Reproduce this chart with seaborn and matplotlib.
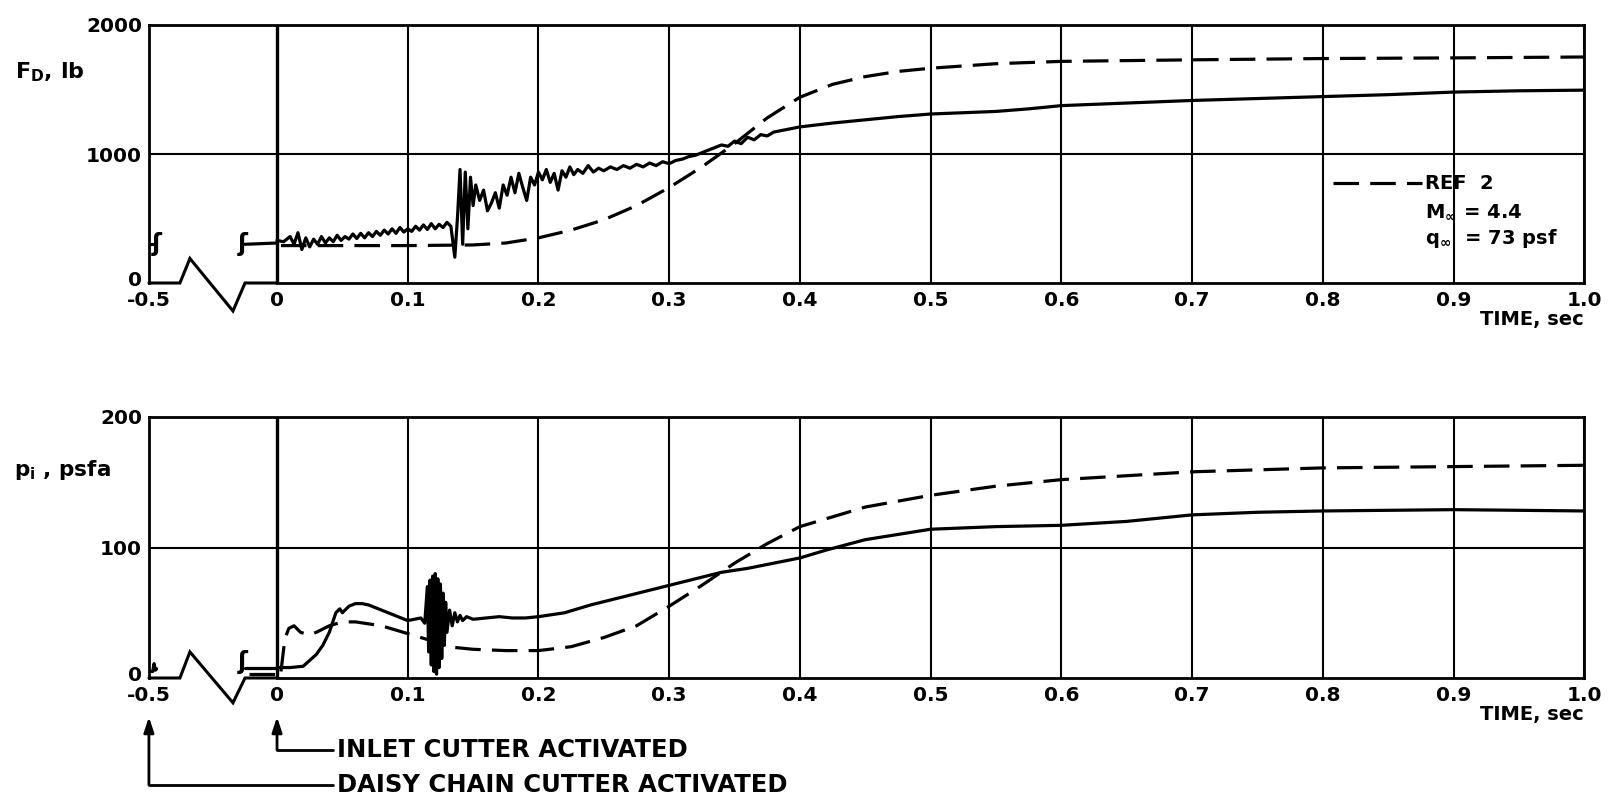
import numpy as np
import pandas as pd
import matplotlib
matplotlib.use("Agg")
import matplotlib.pyplot as plt
import matplotlib.transforms as mtrans
from matplotlib.lines import Line2D
import seaborn as sns

# x axis: -0.5..0 is squeezed into about one tick interval
SQUEEZE = 0.196
time_ticks = [-0.5, 0, 0.1, 0.2, 0.3, 0.4, 0.5, 0.6, 0.7, 0.8, 0.9, 1.0]
time_labels = ['-0.5', '0', '0.1', '0.2', '0.3', '0.4', '0.5', '0.6', '0.7', '0.8', '0.9', '1.0']

# drag force, measured (lb)
fd_time = [0.000, 0.005, 0.010, 0.013, 0.016, 0.019, 0.022, 0.025, 0.028, 0.031, 0.034, 0.037,
           0.040, 0.043, 0.046, 0.049, 0.052, 0.055, 0.058, 0.061, 0.064, 0.067, 0.070, 0.073,
           0.076, 0.079, 0.082, 0.085, 0.088, 0.091, 0.094, 0.097, 0.100, 0.103, 0.106, 0.109,
           0.112, 0.115, 0.118, 0.121, 0.124, 0.127, 0.130, 0.133, 0.136, 0.138, 0.140, 0.142,
           0.144, 0.146, 0.148, 0.150, 0.152, 0.155, 0.158, 0.161, 0.164, 0.167, 0.170, 0.173,
           0.176, 0.179, 0.182, 0.185, 0.188, 0.191, 0.194, 0.197, 0.200, 0.203, 0.206, 0.209,
           0.212, 0.215, 0.218, 0.221, 0.224, 0.227, 0.230, 0.234, 0.238, 0.242, 0.246, 0.250,
           0.255, 0.260, 0.265, 0.270, 0.275, 0.280, 0.285, 0.290, 0.295, 0.300, 0.305, 0.310,
           0.315, 0.320, 0.325, 0.330, 0.335, 0.340, 0.345, 0.350, 0.355, 0.360, 0.365, 0.370,
           0.375, 0.380, 0.390, 0.400, 0.425, 0.450, 0.475, 0.500, 0.525, 0.550, 0.575, 0.600,
           0.650, 0.700, 0.750, 0.800, 0.850, 0.900, 0.950, 1.000]
fd_meas = [330, 320, 360, 300, 390, 260, 350, 280, 340, 300, 360, 310,
           350, 320, 370, 330, 360, 340, 380, 345, 385, 350, 390, 360,
           400, 370, 410, 380, 420, 385, 430, 395, 420, 400, 440, 410,
           450, 415, 460, 420, 455, 430, 470, 440, 200, 500, 880, 300,
           860, 420, 820, 600, 760, 640, 720, 560, 620, 700, 580, 760,
           680, 820, 700, 850, 740, 640, 820, 760, 860, 800, 880, 780,
           850, 720, 870, 820, 900, 840, 880, 850, 910, 860, 890, 870,
           900, 880, 910, 890, 920, 900, 930, 910, 940, 925, 950, 960,
           980, 990, 1010, 1030, 1050, 1070, 1060, 1100, 1080, 1130, 1110, 1150,
           1140, 1170, 1190, 1210, 1240, 1265, 1290, 1310, 1320, 1330, 1350, 1375,
           1395, 1415, 1430, 1445, 1460, 1480, 1490, 1495]

# drag force, REF 2
fd_ref_time = [0.003, 0.05, 0.10, 0.15, 0.175, 0.20, 0.225, 0.25, 0.275, 0.30, 0.325, 0.35,
               0.375, 0.40, 0.425, 0.45, 0.475, 0.50, 0.55, 0.60, 0.70, 0.80, 0.90, 1.00]
fd_ref = [290, 290, 290, 295, 310, 350, 410, 490, 600, 740, 900, 1080,
          1280, 1440, 1540, 1600, 1640, 1665, 1700, 1718, 1730, 1740, 1745, 1752]

# inlet pressure, measured (psfa)
pi_time = [0.000, 0.010, 0.020, 0.030, 0.035, 0.040, 0.045, 0.048, 0.050, 0.055, 0.060, 0.065,
           0.070, 0.080, 0.090, 0.100, 0.105, 0.110, 0.113, 0.115, 0.116, 0.117, 0.118, 0.119,
           0.120, 0.121, 0.122, 0.123, 0.124, 0.125, 0.126, 0.127, 0.128, 0.129, 0.130, 0.132,
           0.134, 0.136, 0.138, 0.140, 0.142, 0.145, 0.150, 0.160, 0.170, 0.180, 0.190, 0.200,
           0.220, 0.240, 0.260, 0.280, 0.300, 0.320, 0.340, 0.360, 0.380, 0.400, 0.420, 0.450,
           0.500, 0.550, 0.600, 0.650, 0.700, 0.750, 0.800, 0.900, 1.000]
pi_meas = [8, 8, 9, 18, 25, 35, 50, 53, 50, 55, 57, 57,
           56, 52, 48, 44, 45, 46, 42, 70, 20, 75, 10, 78,
           5, 80, 3, 76, 8, 72, 15, 65, 25, 58, 35, 52,
           40, 50, 43, 48, 44, 47, 45, 46, 47, 46, 46, 47,
           50, 56, 61, 66, 71, 76, 81, 84, 88, 92, 98, 106,
           114, 116, 117, 120, 125, 127, 128, 129, 128]

# inlet pressure, REF 2
pi_ref_time = [0.003, 0.006, 0.009, 0.013, 0.018, 0.025, 0.030, 0.040, 0.050, 0.060, 0.080, 0.100,
               0.120, 0.130, 0.150, 0.175, 0.200, 0.225, 0.250, 0.275, 0.300, 0.325, 0.350, 0.375,
               0.400, 0.450, 0.500, 0.550, 0.600, 0.700, 0.800, 0.900, 1.000]
pi_ref = [5, 30, 38, 40, 35, 33, 35, 40, 43, 43, 40, 34,
          28, 24, 22, 21, 21, 24, 31, 40, 55, 71, 88, 103,
          116, 131, 140, 147, 152, 158, 161, 162, 163]

# traces before time zero
fd_pre_time = [[-0.5, -0.485], [-0.125, 0.0]]
fd_pre = [[300, 300], [300, 310]]
pi_pre_time = [[-0.5, -0.485, -0.48, -0.475, -0.47], [-0.125, 0.0]]
pi_pre = [[5, 5, 11, 6, 7], [8, 8]]
pi_pre_ref_time = [-0.11, 0.0]
pi_pre_ref = [3, 3]

# axis break (zig-zag) drawn on the time axis
brk_time = [-0.5, -0.379, -0.340, -0.172, -0.125, 0.0]
fd_brk = [0, 0, 190, -217, 0, 0]
pi_brk = [0, 0, 20, -19, 0, 0]


def fwd(t):
    t = np.asarray(t, dtype=float)
    return np.where(t < 0, t * SQUEEZE, t)


def inv(x):
    x = np.asarray(x, dtype=float)
    return np.where(x < 0, x / SQUEEZE, x)


sns.set_style("white")
plt.rcParams['font.family'] = ['DejaVu Sans']
plt.rcParams['font.weight'] = 'bold'
plt.rcParams['mathtext.default'] = 'bf'
plt.rcParams['text.color'] = 'black'
plt.rcParams['axes.labelcolor'] = 'black'
plt.rcParams['xtick.color'] = 'black'
plt.rcParams['ytick.color'] = 'black'

LW = 2.3
DASH = (0, (8, 3.5))

fig = plt.figure(figsize=(16.1, 8), dpi=100)
ax1 = fig.add_axes([0.0925, 0.64625, 0.8915, 0.3225])
ax2 = fig.add_axes([0.0925, 0.1525, 0.8915, 0.32625])


def draw_panel(ax, t_meas, y_meas, t_ref, y_ref, pre_t, pre_y, brk_y, ymax, ystep):
    sns.lineplot(x=t_meas, y=y_meas, ax=ax, color='black', linewidth=LW,
                 sort=False, estimator=None)
    sns.lineplot(x=t_ref, y=y_ref, ax=ax, color='black', linewidth=LW,
                 sort=False, estimator=None, linestyle=DASH)
    for tt, yy in zip(pre_t, pre_y):
        sns.lineplot(x=tt, y=yy, ax=ax, color='black', linewidth=LW,
                     sort=False, estimator=None)
    ax.plot(brk_time, brk_y, color='black', lw=2.2, clip_on=False,
            solid_joinstyle='miter')
    ax.set_xscale('function', functions=(fwd, inv))
    ax.set_xlim(-0.5, 1.0)
    ax.set_ylim(0, ymax)
    ax.set_xticks(time_ticks)
    ax.set_xticklabels(time_labels)
    ax.set_yticks([0, ystep, ymax])
    for t in time_ticks[1:]:
        ax.axvline(t, color='black', lw=2.4 if t == 0 else 1.5, zorder=1)
    ax.axhline(ystep, color='black', lw=1.5, zorder=1)
    for s in ax.spines.values():
        s.set_color('black')
        s.set_linewidth(2.0)
    ax.spines['bottom'].set_bounds(0, 1.0)
    ax.tick_params(length=0, labelsize=14.5)
    ax.tick_params(axis='y', pad=5)
    ax.tick_params(axis='x', pad=6)
    for lab in ax.get_xticklabels() + ax.get_yticklabels():
        lab.set_fontweight('bold')
    # lift the y "0" a little so it sits above the "-0.5"
    zero_lab = ax.get_yticklabels()[0]
    zero_lab.set_transform(zero_lab.get_transform() +
                           mtrans.ScaledTranslation(0, 3 / 72, fig.dpi_scale_trans))
    ax.set_xlabel('')
    ax.set_ylabel('')
    ax.text(1.0, -0.105, 'TIME, sec', transform=ax.transAxes, ha='right', va='top',
            fontsize=14, fontweight='bold')


draw_panel(ax1, fd_time, fd_meas, fd_ref_time, fd_ref, fd_pre_time, fd_pre,
           fd_brk, 2000, 1000)
draw_panel(ax2, pi_time, pi_meas, pi_ref_time, pi_ref, pi_pre_time, pi_pre,
           pi_brk, 200, 100)
sns.lineplot(x=pi_pre_ref_time, y=pi_pre_ref, ax=ax2, color='black', linewidth=LW,
             sort=False, estimator=None, linestyle=DASH)

# break marks on the traces
ax1.text(-0.47, 300, 'ʃ', fontsize=17, ha='center', va='center')
ax1.text(-0.133, 300, 'ʃ', fontsize=17, ha='center', va='center')
ax2.text(-0.135, 12, 'ʃ', fontsize=17, ha='center', va='center')

# legend block in the upper panel
ax1.plot([0.808, 0.876], [775, 775], color='black', lw=LW, linestyle=DASH)
ax1.text(0.878, 775, 'REF  2', fontsize=14, va='center', ha='left')
ax1.text(0.878, 550, r'M$_\infty$ = 4.4', fontsize=14, va='center', ha='left')
ax1.text(0.878, 345, r'q$_\infty$  = 73 psf', fontsize=14, va='center', ha='left')

# axis titles
fig.text(15 / 1610, 1 - 72 / 800, r'F$_D$, lb', fontsize=16, va='center', ha='left')
fig.text(14 / 1610, 1 - 470 / 800, r'p$_i$ , psfa', fontsize=15.5, va='center', ha='left')

# event annotations below the lower panel
blend = mtrans.blended_transform_factory(ax2.transData, fig.transFigure)
y_tip = 1 - 717 / 800
events = [(0.0, 1 - 750 / 800, 'INLET CUTTER ACTIVATED'),
          (-0.5, 1 - 785 / 800, 'DAISY CHAIN CUTTER ACTIVATED')]
for t, yl, label in events:
    ax2.annotate('', xy=(t, y_tip), xytext=(t, yl), xycoords=blend, textcoords=blend,
                 arrowprops=dict(arrowstyle='-|>,head_length=0.9,head_width=0.3',
                                 color='black', lw=2.0, shrinkA=0, shrinkB=0))
    x0 = ax2.transData.transform((t, 0))[0] / fig.bbox.width
    fig.add_artist(Line2D([x0, 333 / 1610], [yl, yl], color='black', lw=2.0,
                          transform=fig.transFigure))
    fig.text(337 / 1610, yl, label, fontsize=17.5, va='center', ha='left')

fig.savefig('out.png', dpi=100)
